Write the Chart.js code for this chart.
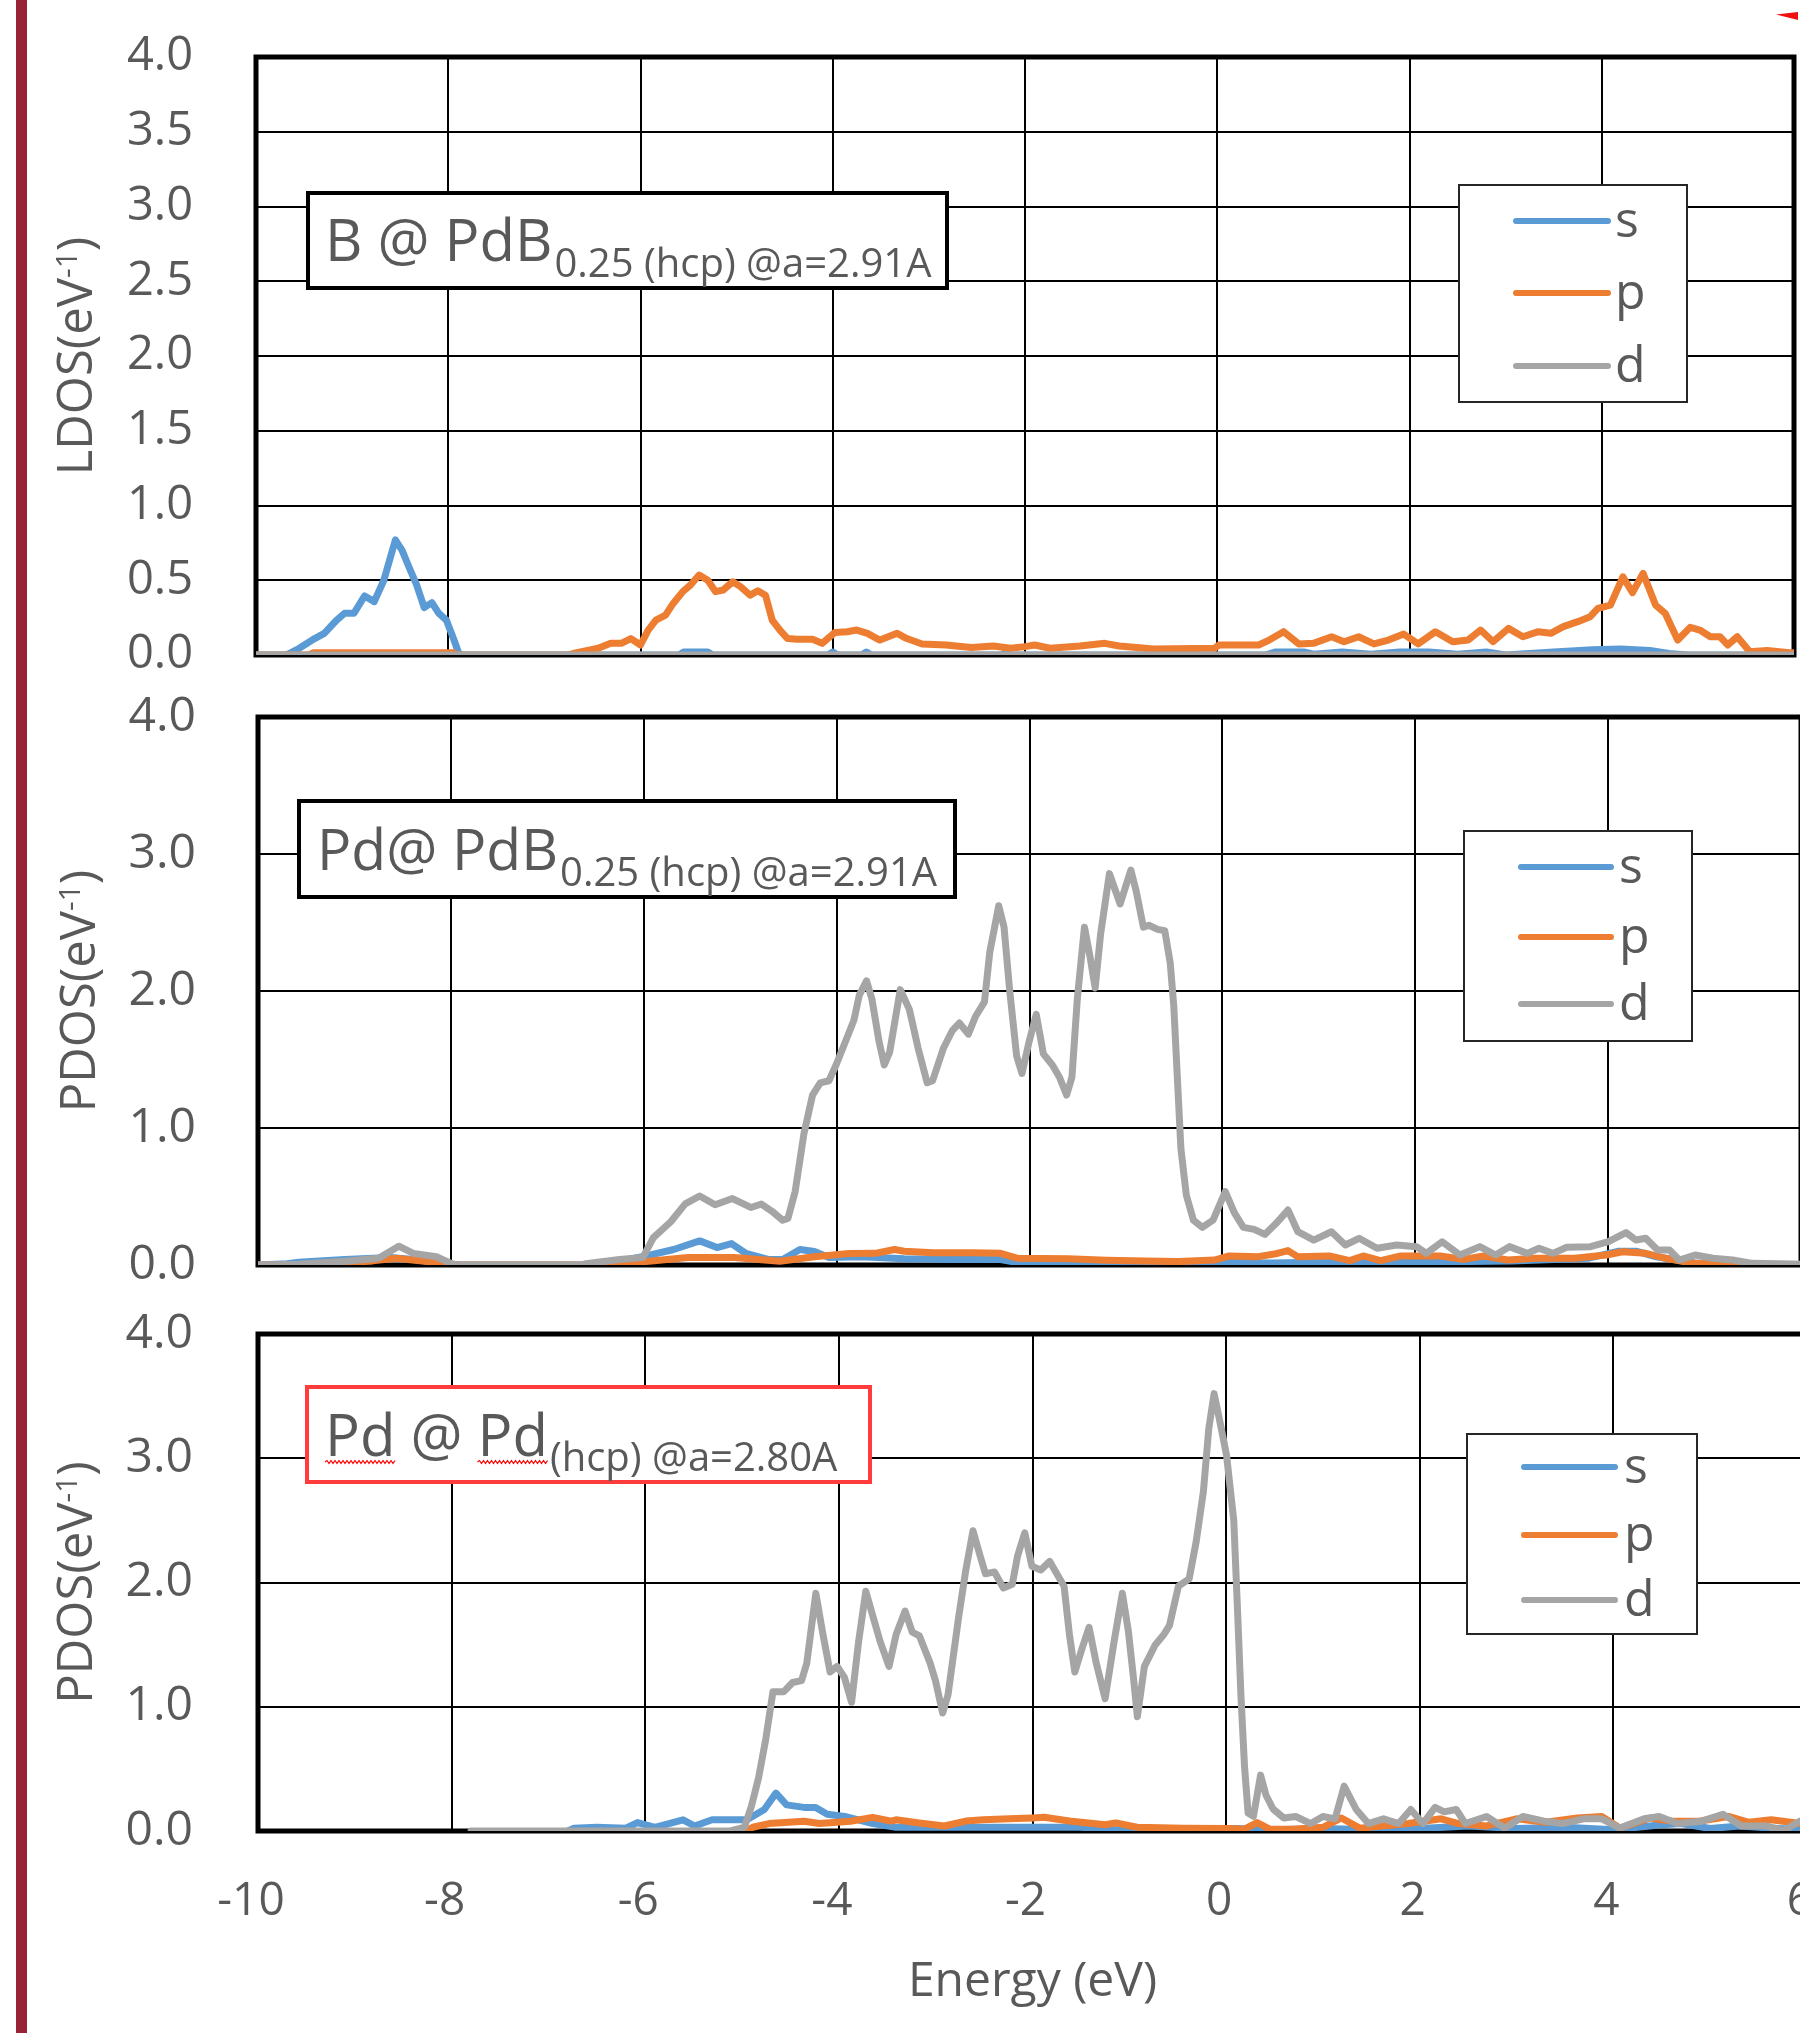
<!DOCTYPE html>
<html><head><meta charset="utf-8">
<script src="https://cdn.jsdelivr.net/npm/chart.js@4.4.1/dist/chart.umd.min.js"></script>
<style>
html,body{margin:0;padding:0;background:#fff;}
body{width:1800px;height:2033px;overflow:hidden;position:relative;}
canvas{position:absolute;left:0;}
#bar{position:absolute;left:16px;top:0;width:11px;height:2033px;background:#982337;}
#mark{position:absolute;left:1776px;top:12px;width:22px;height:8px;background:#f01010;clip-path:polygon(0 30%,100% 0,100% 100%);}
</style></head><body>
<div id="bar"></div><div id="mark"></div>
<canvas id="c1" width="1800" height="700" style="top:0px"></canvas>
<canvas id="c2" width="1815" height="620" style="top:680px"></canvas>
<canvas id="c3" width="1815" height="733" style="top:1300px"></canvas>
<script>
// ---------------- DATA ----------------
const seriesNames = ['s', 'p', 'd'];
const xTickLabels = ['-10', '-8', '-6', '-4', '-2', '0', '2', '4', '6'];
const yTickLabels1 = ['0.0', '0.5', '1.0', '1.5', '2.0', '2.5', '3.0', '3.5', '4.0'];
const yTickLabels23 = ['0.0', '1.0', '2.0', '3.0', '4.0'];

// Panel 1: B @ PdB0.25 (hcp)  [energy eV, LDOS]
const B_s = [[-10,0],[-9.7,0],[-9.67,0.005],[-9.55,0.045],[-9.39,0.11],[-9.29,0.145],[-9.16,0.234],[-9.08,0.279],[-8.98,0.28],[-8.87,0.395],[-8.77,0.357],[-8.67,0.5],[-8.55,0.77],[-8.48,0.70],[-8.41,0.59],[-8.33,0.47],[-8.25,0.317],[-8.17,0.35],[-8.10,0.28],[-8.02,0.234],[-7.94,0.10],[-7.89,0.01],[-7.85,0],[-5.6,0],[-5.55,0.02],[-5.3,0.02],[-5.25,0],[-4.05,0],[-4.0,0.02],[-3.95,0],[-3.7,0],[-3.65,0.02],[-3.6,0],[-2.25,0],[-2.2,0.015],[-2.15,0],[0.5,0],[0.6,0.02],[0.9,0.02],[1.0,0.005],[1.3,0.02],[1.6,0.005],[1.9,0.02],[2.2,0.02],[2.5,0.005],[2.8,0.02],[3.0,0],[3.5,0.02],[3.9,0.035],[4.2,0.04],[4.5,0.03],[4.7,0.01],[4.9,0],[6,0]];
const B_p = [[-10,0],[-9.45,0],[-9.4,0.015],[-7.95,0.015],[-7.9,0],[-6.75,0],[-6.70,0.01],[-6.55,0.03],[-6.44,0.045],[-6.31,0.078],[-6.20,0.078],[-6.10,0.11],[-6.00,0.067],[-5.92,0.167],[-5.84,0.234],[-5.74,0.267],[-5.66,0.345],[-5.56,0.424],[-5.48,0.468],[-5.39,0.535],[-5.30,0.5],[-5.22,0.424],[-5.14,0.435],[-5.04,0.49],[-4.96,0.457],[-4.86,0.40],[-4.78,0.43],[-4.70,0.40],[-4.63,0.234],[-4.55,0.167],[-4.47,0.11],[-4.37,0.105],[-4.21,0.105],[-4.11,0.078],[-3.98,0.15],[-3.85,0.156],[-3.75,0.167],[-3.64,0.145],[-3.51,0.10],[-3.33,0.145],[-3.23,0.11],[-3.07,0.074],[-2.82,0.067],[-2.56,0.05],[-2.33,0.06],[-2.15,0.045],[-2.0,0.056],[-1.9,0.067],[-1.74,0.045],[-1.43,0.06],[-1.17,0.078],[-1.02,0.06],[-0.66,0.04],[-0.03,0.045],[0.02,0.067],[0.43,0.067],[0.54,0.10],[0.69,0.156],[0.85,0.074],[1.0,0.078],[1.19,0.122],[1.32,0.089],[1.47,0.122],[1.63,0.074],[1.78,0.10],[1.94,0.14],[2.09,0.074],[2.27,0.156],[2.45,0.089],[2.61,0.10],[2.74,0.167],[2.87,0.089],[3.03,0.178],[3.18,0.122],[3.34,0.156],[3.47,0.145],[3.60,0.19],[3.75,0.223],[3.88,0.256],[3.96,0.312],[4.09,0.334],[4.22,0.523],[4.32,0.417],[4.43,0.546],[4.56,0.334],[4.66,0.279],[4.79,0.10],[4.92,0.185],[5.02,0.167],[5.13,0.122],[5.23,0.122],[5.31,0.067],[5.41,0.122],[5.54,0.022],[5.72,0.03],[5.95,0.015],[6,0.015]];
const B_d = [[-10,0],[-6,0],[-2,0],[2,0],[6,0]];

// Panel 2: Pd @ PdB0.25 (hcp)  [energy eV, PDOS]
const PdB_s = [[-10,0],[-9.7,0.01],[-9.58,0.02],[-9.10,0.04],[-8.63,0.054],[-8.39,0.04],[-8.03,0.01],[-7.9,0],[-6.6,0],[-6.25,0.027],[-5.95,0.07],[-5.69,0.113],[-5.42,0.176],[-5.24,0.127],[-5.09,0.156],[-4.94,0.084],[-4.70,0.04],[-4.56,0.04],[-4.38,0.113],[-4.23,0.098],[-4.08,0.054],[-3.75,0.06],[-3.3,0.045],[-2.8,0.04],[-2.3,0.04],[-2.1,0.015],[-1.0,0.01],[0.0,0.02],[0.5,0.015],[1.0,0.02],[2.0,0.02],[3.0,0.03],[3.8,0.05],[4.1,0.1],[4.3,0.1],[4.5,0.06],[4.9,0.015],[5.5,0.005],[6,0]];
const PdB_p = [[-10,0],[-9.2,0],[-9.16,0.01],[-8.81,0.03],[-8.57,0.05],[-8.27,0.027],[-7.97,0.003],[-7.9,0],[-6.6,0],[-6.31,0.01],[-5.95,0.027],[-5.54,0.054],[-5.06,0.054],[-4.59,0.027],[-4.23,0.06],[-3.87,0.084],[-3.6,0.085],[-3.4,0.113],[-3.3,0.1],[-3.0,0.09],[-2.6,0.09],[-2.3,0.085],[-2.13,0.05],[-1.6,0.045],[-1.2,0.035],[-0.8,0.03],[-0.45,0.025],[-0.08,0.036],[0.07,0.066],[0.37,0.061],[0.54,0.08],[0.68,0.105],[0.78,0.061],[1.11,0.066],[1.32,0.032],[1.46,0.066],[1.64,0.032],[1.85,0.066],[2.26,0.066],[2.5,0.041],[2.71,0.066],[2.96,0.036],[3.24,0.049],[3.65,0.049],[3.98,0.073],[4.15,0.097],[4.39,0.085],[4.6,0.049],[4.88,0.012],[5.3,0.007],[6,0]];
const PdB_d = [[-10,0],[-9.58,0.005],[-9.10,0.027],[-8.75,0.05],[-8.54,0.137],[-8.39,0.085],[-8.15,0.06],[-7.97,0.003],[-7.9,0],[-6.65,0],[-6.6,0.01],[-6.25,0.04],[-6.01,0.054],[-5.9,0.2],[-5.72,0.316],[-5.57,0.446],[-5.42,0.504],[-5.26,0.44],[-5.08,0.485],[-4.89,0.42],[-4.78,0.445],[-4.67,0.392],[-4.56,0.327],[-4.505,0.34],[-4.43,0.536],[-4.34,0.954],[-4.25,1.24],[-4.17,1.33],[-4.08,1.345],[-4.006,1.46],[-3.93,1.593],[-3.82,1.788],[-3.765,1.97],[-3.69,2.074],[-3.635,1.944],[-3.56,1.631],[-3.506,1.46],[-3.45,1.554],[-3.34,2.01],[-3.246,1.866],[-3.154,1.58],[-3.061,1.33],[-3.005,1.345],[-2.894,1.58],[-2.801,1.71],[-2.727,1.766],[-2.634,1.685],[-2.56,1.814],[-2.467,1.92],[-2.412,2.283],[-2.319,2.622],[-2.264,2.466],[-2.208,2.022],[-2.134,1.528],[-2.078,1.398],[-2.004,1.631],[-1.93,1.83],[-1.856,1.541],[-1.763,1.46],[-1.689,1.37],[-1.615,1.24],[-1.56,1.37],[-1.504,1.944],[-1.43,2.466],[-1.374,2.257],[-1.319,2.022],[-1.263,2.414],[-1.171,2.857],[-1.06,2.635],[-0.949,2.883],[-0.893,2.727],[-0.819,2.466],[-0.763,2.48],[-0.671,2.45],[-0.597,2.44],[-0.541,2.205],[-0.504,1.892],[-0.467,1.37],[-0.43,0.849],[-0.374,0.51],[-0.3,0.327],[-0.208,0.275],[-0.097,0.327],[0.03,0.536],[0.125,0.38],[0.218,0.275],[0.33,0.26],[0.44,0.223],[0.558,0.304],[0.68,0.401],[0.783,0.243],[0.947,0.182],[1.131,0.243],[1.275,0.146],[1.418,0.195],[1.603,0.122],[1.808,0.146],[2.013,0.134],[2.115,0.085],[2.279,0.17],[2.464,0.073],[2.669,0.134],[2.833,0.073],[2.976,0.134],[3.161,0.085],[3.284,0.122],[3.428,0.085],[3.571,0.129],[3.817,0.134],[4.002,0.17],[4.186,0.236],[4.288,0.182],[4.39,0.195],[4.513,0.109],[4.636,0.109],[4.738,0.036],[4.902,0.073],[5.087,0.049],[5.291,0.036],[5.496,0.012],[5.906,0.007],[6,0.005]];

// Panel 3: Pd @ Pd (hcp)  [energy eV, PDOS]
const Pd_s = [[-6.8,0],[-6.735,0.023],[-6.5,0.03],[-6.2,0.023],[-6.08,0.068],[-5.9,0.03],[-5.61,0.09],[-5.49,0.04],[-5.31,0.09],[-4.95,0.09],[-4.77,0.173],[-4.65,0.305],[-4.54,0.21],[-4.36,0.19],[-4.24,0.19],[-4.12,0.135],[-3.94,0.117],[-3.65,0.06],[-3.41,0.03],[-2.5,0.03],[-1.5,0.03],[-1.2,0.01],[-0.2,0.01],[0.1,0.02],[0.5,0.01],[1.0,0.02],[1.5,0.01],[2.0,0.02],[2.5,0.04],[3.0,0.02],[3.5,0.03],[4.0,0.01],[4.5,0.05],[4.7,0.06],[5.0,0.02],[5.3,0.04],[5.7,0.02],[6,0.01]];
const Pd_p = [[-5.0,0],[-4.94,0.01],[-4.89,0.03],[-4.72,0.06],[-4.36,0.079],[-4.2,0.06],[-4.02,0.07],[-3.88,0.079],[-3.65,0.11],[-3.46,0.08],[-3.41,0.09],[-3.17,0.065],[-2.91,0.04],[-2.69,0.08],[-2.51,0.09],[-2.17,0.1],[-2.0,0.105],[-1.88,0.11],[-1.62,0.08],[-1.25,0.05],[-1.14,0.065],[-0.92,0.03],[-0.44,0.023],[0.04,0.02],[0.19,0.015],[0.32,0.068],[0.45,0.015],[0.7,0.015],[1.0,0.03],[1.19,0.105],[1.38,0.023],[1.88,0.06],[2.22,0.098],[2.4,0.06],[2.69,0.041],[3.0,0.098],[3.3,0.07],[3.63,0.105],[3.88,0.117],[4.07,0.023],[4.38,0.105],[4.6,0.08],[4.88,0.079],[5.19,0.117],[5.4,0.07],[5.63,0.09],[5.93,0.06],[6,0.06]];
const Pd_d = [[-7.8,0],[-5.124,0],[-4.976,0.03],[-4.903,0.2],[-4.829,0.43],[-4.755,0.74],[-4.681,1.12],[-4.571,1.12],[-4.478,1.195],[-4.386,1.21],[-4.331,1.353],[-4.238,1.913],[-4.165,1.584],[-4.091,1.28],[-4.017,1.325],[-3.943,1.237],[-3.869,1.036],[-3.796,1.526],[-3.722,1.93],[-3.648,1.727],[-3.574,1.526],[-3.482,1.325],[-3.408,1.584],[-3.316,1.77],[-3.242,1.6],[-3.168,1.57],[-3.058,1.353],[-3.002,1.21],[-2.928,0.95],[-2.873,1.094],[-2.762,1.727],[-2.689,2.1],[-2.615,2.416],[-2.541,2.214],[-2.486,2.07],[-2.393,2.085],[-2.301,1.956],[-2.209,1.985],[-2.154,2.214],[-2.080,2.40],[-2.006,2.13],[-1.914,2.1],[-1.822,2.17],[-1.674,1.97],[-1.619,1.584],[-1.563,1.28],[-1.489,1.467],[-1.416,1.64],[-1.342,1.353],[-1.25,1.065],[-1.157,1.526],[-1.072,1.913],[-1.010,1.61],[-0.954,1.21],[-0.917,0.92],[-0.844,1.325],[-0.733,1.497],[-0.641,1.584],[-0.585,1.655],[-0.493,1.97],[-0.382,2.03],[-0.309,2.33],[-0.235,2.73],[-0.179,3.24],[-0.124,3.52],[-0.050,3.24],[0.005,3.02],[0.079,2.50],[0.116,1.81],[0.153,1.09],[0.190,0.52],[0.227,0.144],[0.282,0.118],[0.356,0.45],[0.411,0.29],[0.485,0.177],[0.596,0.105],[0.718,0.117],[0.874,0.06],[1.0,0.117],[1.125,0.098],[1.219,0.361],[1.344,0.173],[1.469,0.06],[1.626,0.098],[1.782,0.06],[1.907,0.173],[2.033,0.06],[2.158,0.19],[2.252,0.154],[2.377,0.173],[2.471,0.06],[2.69,0.117],[2.878,0.023],[3.066,0.117],[3.285,0.079],[3.473,0.06],[3.692,0.098],[3.88,0.098],[4.067,0.023],[4.318,0.098],[4.474,0.117],[4.662,0.06],[4.913,0.079],[5.132,0.135],[5.32,0.041],[5.57,0.041],[5.758,0.004],[5.93,0.08],[6,0.06]];

// ---------------- STYLE ----------------
const FONT = '"Open Sans", "Noto Sans", sans-serif';
const TEXT = '#595959';
const seriesColors = ['#5B9BD5', '#ED7D31', '#A5A5A5'];
const LINE_W = 7;

const framePlugin = {
  id: 'frame',
  beforeDatasetsDraw(chart) {
    const {ctx, chartArea: a} = chart;
    ctx.save();
    ctx.strokeStyle = '#000'; ctx.lineWidth = 5;
    ctx.strokeRect(a.left, a.top, a.right - a.left, a.bottom - a.top);
    ctx.restore();
  }
};

const boxLegend = {
  id: 'boxLegend',
  afterDraw(chart, args, o) {
    const ctx = chart.ctx;
    ctx.save();
    ctx.fillStyle = '#fff'; ctx.fillRect(o.x, o.y, o.w, o.h);
    ctx.lineWidth = 2; ctx.strokeStyle = '#262626'; ctx.strokeRect(o.x, o.y, o.w, o.h);
    chart.data.datasets.forEach((ds, i) => {
      const y = o.rows[i];
      ctx.strokeStyle = ds.borderColor; ctx.lineWidth = 6; ctx.lineCap = 'round';
      ctx.beginPath(); ctx.moveTo(o.x1, y); ctx.lineTo(o.x2, y); ctx.stroke();
      ctx.fillStyle = TEXT; ctx.font = o.size + 'px ' + FONT; ctx.textBaseline = 'alphabetic';
      ctx.fillText(ds.label, o.tx, y + 16);
    });
    ctx.restore();
  }
};

function wavy(ctx, x0, x1, y) {
  ctx.beginPath(); ctx.moveTo(x0, y);
  let up = true;
  for (let x = x0 + 2; x <= x1; x += 2) { ctx.lineTo(x, y + (up ? -1.5 : 1.5)); up = !up; }
  ctx.strokeStyle = '#f00'; ctx.lineWidth = 1.2; ctx.stroke();
}

const labelBox = {
  id: 'labelBox',
  afterDraw(chart, args, o) {
    const ctx = chart.ctx;
    ctx.save();
    ctx.fillStyle = '#fff'; ctx.fillRect(o.x, o.y, o.w, o.h);
    ctx.lineWidth = o.lw; ctx.strokeStyle = o.color; ctx.strokeRect(o.x, o.y, o.w, o.h);
    ctx.fillStyle = TEXT; ctx.textBaseline = 'alphabetic';
    const mainF = o.mainSize + 'px ' + FONT;
    ctx.font = mainF;
    ctx.fillText(o.main, o.tx, o.mainBase);
    const mw = ctx.measureText(o.main).width;
    if (o.wavy) {
      o.wavy.forEach(w => {
        ctx.font = mainF;
        const x0 = o.tx + ctx.measureText(w.pre).width;
        const x1 = x0 + ctx.measureText(w.word).width;
        wavy(ctx, x0, x1, o.mainBase + 6);
      });
    }
    ctx.fillStyle = TEXT;
    ctx.font = o.subSize + 'px ' + FONT;
    ctx.fillText(o.sub, o.tx + mw + 2, o.subBase);
    ctx.restore();
  }
};

const yTitle = {
  id: 'yTitle',
  afterDraw(chart, args, o) {
    const ctx = chart.ctx, a = chart.chartArea;
    const cy = (a.top + a.bottom) / 2;
    ctx.save();
    ctx.translate(o.baseX, cy); ctx.rotate(-Math.PI / 2);
    ctx.fillStyle = TEXT; ctx.textBaseline = 'alphabetic';
    const mainF = o.size + 'px ' + FONT, supF = o.supSize + 'px ' + FONT;
    ctx.font = mainF; const w1 = ctx.measureText(o.text).width, w3 = ctx.measureText(o.close).width;
    ctx.font = supF; const w2 = ctx.measureText(o.sup).width;
    let x = -(w1 + w2 + w3) / 2;
    ctx.font = mainF; ctx.fillText(o.text, x, 0); x += w1;
    ctx.font = supF; ctx.fillText(o.sup, x, -o.raise); x += w2;
    ctx.font = mainF; ctx.fillText(o.close, x, 0);
    ctx.restore();
  }
};

function zeroPad(s) { s.paddingTop = 0; s.paddingBottom = 0; s.paddingLeft = 0; s.paddingRight = 0; }

function makeChart(id, c) {
  const datasets = c.series.map((s, i) => ({
    label: seriesNames[i],
    data: s.map(([x, y]) => ({x, y})),
    borderColor: seriesColors[i],
    backgroundColor: seriesColors[i],
    borderWidth: LINE_W, pointRadius: 0, tension: 0, fill: false,
    borderJoinStyle: 'round', borderCapStyle: 'round',
    order: 3 - i
  }));
  return new Chart(document.getElementById(id), {
    type: 'line',
    data: {datasets},
    options: {
      responsive: false, animation: false, events: [], devicePixelRatio: 1,
      elements: {line: {borderWidth: LINE_W, borderJoinStyle: 'round', borderCapStyle: 'round'}, point: {radius: 0}},
      datasets: {line: {borderWidth: LINE_W}},
      layout: {autoPadding: false, padding: {top: c.padTop, right: c.padRight, left: 0, bottom: 0}},
      plugins: {
        legend: {display: false}, tooltip: {enabled: false},
        boxLegend: c.legend, labelBox: c.label, yTitle: c.yTitle
      },
      scales: {
        x: {
          type: 'linear', min: -10, max: 6,
          ticks: {stepSize: 2, display: c.showX, color: TEXT, padding: 43, labelOffset: -7,
                  font: {family: FONT, size: 46},
                  callback: (v, i) => xTickLabels[i]},
          grid: {color: '#000', lineWidth: 2, drawTicks: false},
          border: {display: false},
          title: {display: c.showX, text: 'Energy (eV)', color: TEXT,
                  font: {family: FONT, size: 48}, padding: {top: 0, bottom: 22}},
          afterFit: s => { s.height = c.xHeight; zeroPad(s); }
        },
        y: {
          type: 'linear', min: 0, max: 4,
          ticks: {stepSize: c.yStep, color: TEXT, padding: c.yPad,
                  font: {family: FONT, size: c.yFont},
                  callback: (v, i) => c.yLabels[i]},
          grid: {color: '#000', lineWidth: 2, drawTicks: false},
          border: {display: false},
          afterFit: s => { s.width = c.yWidth; zeroPad(s); }
        }
      }
    },
    plugins: [framePlugin, boxLegend, labelBox, yTitle]
  });
}

makeChart('c1', {
  series: [B_s, B_p, B_d], padTop: 57, padRight: 6, xHeight: 45, yWidth: 256,
  yStep: 0.5, yLabels: yTickLabels1, yPad: 63, yFont: 47, showX: false,
  legend: {x: 1459, y: 185, w: 228, h: 217, x1: 1516, x2: 1608, rows: [221, 293, 366], tx: 1615, size: 50},
  label: {x: 308, y: 193, w: 639, h: 95, lw: 4, color: '#000', tx: 325, main: 'B @ PdB', sub: '0.25 (hcp) @a=2.91A',
          mainSize: 58, mainBase: 261, subSize: 40, subBase: 277},
  yTitle: {baseX: 92, size: 49, supSize: 30, raise: 15, text: 'LDOS(eV', sup: '-1', close: ')'}
});

makeChart('c2', {
  series: [PdB_s, PdB_p, PdB_d], padTop: 37, padRight: 14, xHeight: 35, yWidth: 258,
  yStep: 1, yLabels: yTickLabels23, yPad: 62, yFont: 48, showX: false,
  legend: {x: 1464, y: 151, w: 228, h: 210, x1: 1521, x2: 1611, rows: [187, 257, 324], tx: 1619, size: 50},
  label: {x: 299, y: 121, w: 656, h: 96, lw: 4, color: '#000', tx: 317, main: 'Pd@ PdB', sub: '0.25 (hcp) @a=2.91A',
          mainSize: 57, mainBase: 190, subSize: 40, subBase: 206},
  yTitle: {baseX: 95, size: 49, supSize: 30, raise: 15, text: 'PDOS(eV', sup: '-1', close: ')'}
});

makeChart('c3', {
  series: [Pd_s, Pd_p, Pd_d], padTop: 34, padRight: 8, xHeight: 202, yWidth: 258,
  yStep: 1, yLabels: yTickLabels23, yPad: 65, yFont: 48, showX: true,
  legend: {x: 1467, y: 134, w: 230, h: 200, x1: 1524, x2: 1615, rows: [167, 235, 300], tx: 1624, size: 50},
  label: {x: 307, y: 87, w: 563, h: 95, lw: 4, color: '#FF3B3B', tx: 325, main: 'Pd @ Pd', sub: '(hcp) @a=2.80A',
          mainSize: 58, mainBase: 156, subSize: 40, subBase: 171,
          wavy: [{pre: '', word: 'Pd'}, {pre: 'Pd @ ', word: 'Pd'}]},
  yTitle: {baseX: 92, size: 49, supSize: 30, raise: 15, text: 'PDOS(eV', sup: '-1', close: ')'}
});
</script>
</body></html>
